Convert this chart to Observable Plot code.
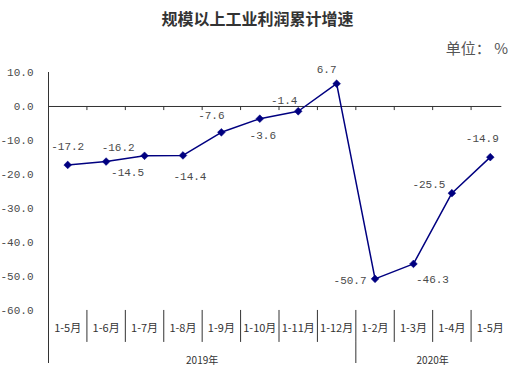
<!DOCTYPE html>
<html><head><meta charset="utf-8">
<script src="https://cdn.jsdelivr.net/npm/d3@7"></script>
<script src="https://cdn.jsdelivr.net/npm/@observablehq/plot@0.6"></script>
<style>
body{margin:0;background:#fff;}
#wrap{position:relative;width:515px;height:369px;overflow:hidden;}
#title{position:absolute;left:0;width:515px;top:6px;text-align:center;font:bold 16px "Noto Sans CJK SC";color:#333;}
#unit{position:absolute;right:7px;top:37px;font:15px "Noto Sans CJK SC";color:#555;white-space:pre;}
#chart{position:absolute;left:0;top:60px;}
</style></head><body>
<div id="wrap"><div id="title">规模以上工业利润累计增速</div><div id="unit">单位： %</div><div id="chart"></div></div>
<script>
const categories = ["1-5月","1-6月","1-7月","1-8月","1-9月","1-10月","1-11月","1-12月","1-2月","1-3月","1-4月","1-5月"];
const values = [-17.2, -16.2, -14.5, -14.4, -7.6, -3.6, -1.4, 6.7, -50.7, -46.3, -25.5, -14.9];
const years = ["2019年", "2020年"];
const yearCounts = [8, 4];
const yTicks = [10, 0, -10, -20, -30, -40, -50, -60];

// layout (pixel offsets of the value labels relative to their points)
const labelOffsets = [[0,-18],[12,-14],[-17,17],[7,21],[-10,-17],[3,17],[-14,-11],[-10,-14],[-25,2],[19,16],[-23,-9],[-8,-19]];

const data = values.map((v, i) => ({i, v, c: categories[i]}));
const boundaries = d3.range(0.5, categories.length - 1, 1);
let start = 0;
const yearData = years.map((y, k) => { const s = start; start += yearCounts[k]; return {y, x: (s + start - 1) / 2, end: start - 0.5}; });
const yearBreaks = yearData.slice(0, -1).map(d => d.end);

const numFont = "Liberation Mono";
const ink = "#333";
const textInk = "#4a4a4a";
const navy = "#000080";

const plot = Plot.plot({
  width: 515, height: 309,
  marginLeft: 48, marginRight: 6, marginTop: 12, marginBottom: 6,
  style: {fontFamily: numFont, fontSize: "11px", color: textInk, background: "#fff"},
  x: {type: "linear", domain: [-0.5, categories.length - 0.5], axis: null},
  y: {domain: [-75.6, 10], ticks: yTicks, tickFormat: d => d.toFixed(1), tickSize: 0, tickPadding: 15, label: null, line: false},
  marks: [
    Plot.ruleX([-0.5], {y1: 10, y2: -75.6, stroke: ink, strokeWidth: 1}),
    Plot.ruleY([0], {x1: -0.5, x2: 11.3, stroke: ink, strokeWidth: 1}),
    Plot.ruleX(boundaries, {y1: 0, y2: -1.2, stroke: ink}),
    Plot.ruleX(boundaries, {y1: -60, y2: -69.4, stroke: ink}),
    Plot.ruleX(yearBreaks, {y1: -69.4, y2: -75.6, stroke: ink}),
    Plot.text(data, {x: "i", y: -65.3, text: "c", fontFamily: "Noto Sans CJK SC", fontSize: 11, fill: "#333"}),
    Plot.text(yearData, {x: "x", y: -74.7, text: "y", fontFamily: "Noto Sans CJK SC", fontSize: 10, fill: "#333"}),
    Plot.line(data, {x: "i", y: "v", stroke: navy, strokeWidth: 1.5}),
    Plot.dot(data, {x: "i", y: "v", symbol: "diamond2", r: 3.5, fill: navy, stroke: navy, strokeWidth: 0.5}),
    ...data.map((d, k) => Plot.text([d], {x: "i", y: "v", text: e => e.v.toFixed(1), dx: labelOffsets[k][0], dy: labelOffsets[k][1], fill: textInk, fontSize: 11}))
  ]
});
document.getElementById("chart").appendChild(plot);
</script>
</body></html>
